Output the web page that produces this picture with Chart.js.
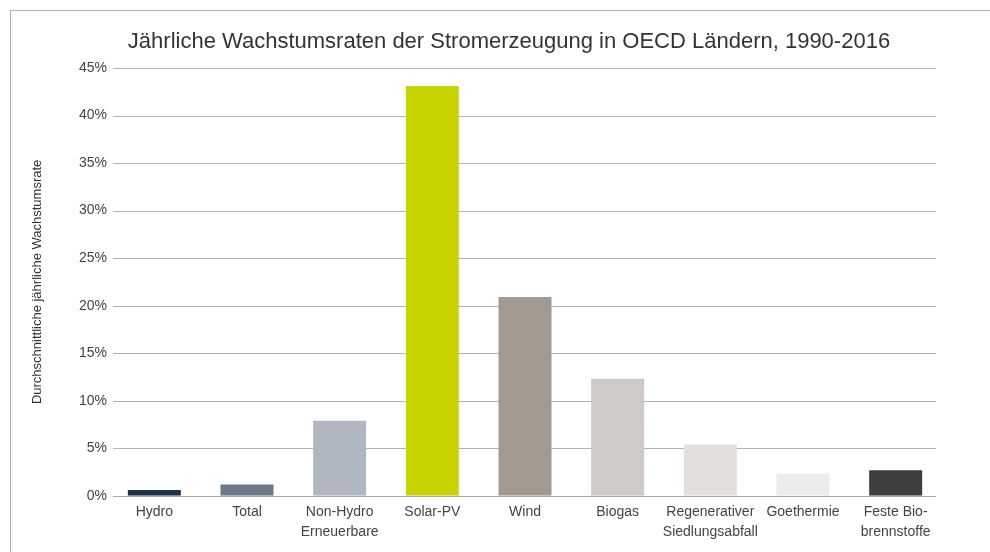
<!DOCTYPE html>
<html lang="de">
<head>
<meta charset="UTF-8">
<title>Stromerzeugung OECD</title>
<script src="https://cdn.jsdelivr.net/npm/chart.js"></script>
<style>
  html, body { margin: 0; padding: 0; background: #fff; }
  .wrap { position: relative; width: 990px; height: 552px; overflow: hidden; }
  .frame { position: absolute; left: 10px; top: 10px; width: 1000px; height: 600px;
           border-left: 1.5px solid #b3aba4; border-top: 1.5px solid #b3aba4; }
  canvas { position: absolute; left: 0; top: 0; }
</style>
</head>
<body>
<div class="wrap">
  <div class="frame"></div>
  <canvas id="chart" width="990" height="552"></canvas>
</div>
<script>
  // categories, values (%), bar colours
  const categories = [
    'Hydro', 'Total', ['Non-Hydro', 'Erneuerbare'], 'Solar-PV', 'Wind', 'Biogas',
    ['Regenerativer', 'Siedlungsabfall'], 'Goethermie', ['Feste Bio-', 'brennstoffe']
  ];
  const growthRates = [0.6, 1.2, 7.9, 43.1, 20.9, 12.3, 5.4, 2.35, 2.7];
  const barColors = ['#1e3246', '#6b798b', '#b0b7c3', '#c8d400', '#a29a90',
                     '#cfcac5', '#e3e0dc', '#ececec', '#403e3c'];
  const yTicks = [0, 5, 10, 15, 20, 25, 30, 35, 40, 45];
  const chartTitle = 'Jährliche Wachstumsraten der Stromerzeugung in OECD Ländern, 1990-2016';

  const fontFam = '"Liberation Sans", Arial, sans-serif';

  // title is drawn by hand so it can sit where the original has it
  const titlePlugin = {
    id: 'fixedTitle',
    afterDraw(chart) {
      const ctx = chart.ctx;
      ctx.save();
      ctx.font = '22px ' + fontFam;
      ctx.fillStyle = '#333';
      ctx.textAlign = 'center';
      ctx.textBaseline = 'middle';
      ctx.fillText(chartTitle, 509, 42);
      ctx.restore();
    }
  };

  function hLine(chart, v) {
    const { ctx, chartArea, scales } = chart;
    const y = Math.round(scales.y.getPixelForValue(v)) + 0.5;
    ctx.beginPath();
    ctx.moveTo(chartArea.left + 5, y);
    ctx.lineTo(chartArea.right - 6, y);
    ctx.stroke();
  }

  // grid lines a bit shorter than the bar area, like the original
  const gridPlugin = {
    id: 'shortGrid',
    beforeDatasetsDraw(chart) {
      const ctx = chart.ctx;
      ctx.save();
      ctx.strokeStyle = '#b8b0a9';
      ctx.lineWidth = 1.2;
      yTicks.forEach(v => hLine(chart, v));
      ctx.restore();
    },
    afterDatasetsDraw(chart) {
      // zero line shows over the bar feet
      const ctx = chart.ctx;
      ctx.save();
      ctx.strokeStyle = '#b0a8a1';
      ctx.lineWidth = 1.2;
      hLine(chart, 0);
      ctx.restore();
    }
  };

  new Chart(document.getElementById('chart'), {
    type: 'bar',
    data: {
      labels: categories,
      datasets: [{
        data: growthRates,
        backgroundColor: barColors,
        categoryPercentage: 1,
        barPercentage: 0.572
      }]
    },
    plugins: [gridPlugin, titlePlugin],
    options: {
      responsive: false,
      animation: false,
      layout: { padding: { left: 24, right: 48, top: 68, bottom: 3 } },
      plugins: {
        legend: { display: false },
        tooltip: { enabled: false },
        title: { display: false }
      },
      scales: {
        x: {
          grid: { display: false, drawTicks: false },
          border: { display: false },
          ticks: {
            color: '#444',
            padding: 7,
            maxRotation: 0,
            minRotation: 0,
            autoSkip: false,
            font: { family: fontFam, size: 14, lineHeight: 1.4 }
          }
        },
        y: {
          min: 0,
          max: 45,
          afterBuildTicks: (scale) => { scale.ticks = yTicks.map(v => ({ value: v })); },
          afterFit: (scale) => { scale.width = 84; },
          grid: { display: false, drawTicks: false },
          border: { display: false },
          ticks: {
            color: '#444',
            padding: 1,
            font: { family: fontFam, size: 14 },
            callback: (v) => v + '%'
          },
          title: {
            display: true,
            text: 'Durchschnittliche jährliche Wachstumsrate',
            color: '#333',
            font: { family: fontFam, size: 13 },
            padding: { top: 6, bottom: 0 }
          }
        }
      }
    }
  });
</script>
</body>
</html>
